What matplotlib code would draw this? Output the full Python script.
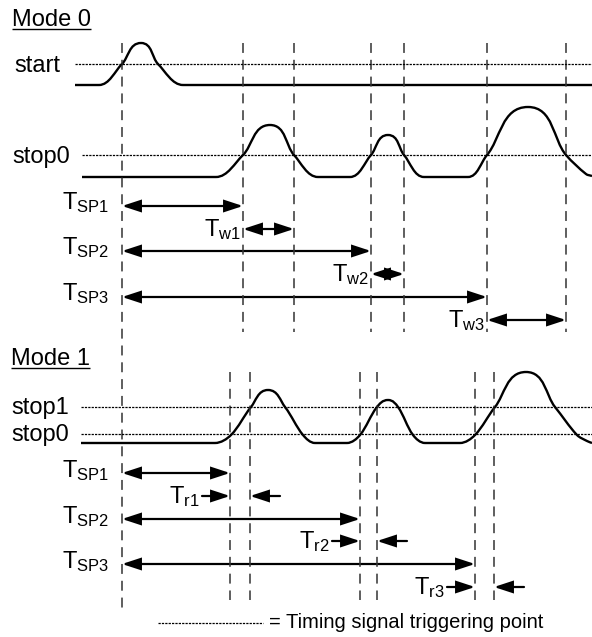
import numpy as np
import matplotlib
matplotlib.use("Agg")
import matplotlib.pyplot as plt
from matplotlib.path import Path
from matplotlib.patches import PathPatch, FancyArrowPatch

plt.rcParams['font.family'] = ['Liberation Sans', 'DejaVu Sans']
plt.rcParams['mathtext.fontset'] = 'custom'
plt.rcParams['mathtext.rm'] = 'Liberation Sans'
plt.rcParams['mathtext.it'] = 'Liberation Sans'

# --- data (time axis ~ pixel units, signal levels ~ pixel rows) ---
T_START = 122
TRIG_M0 = [243, 294, 371, 404, 487, 566]          # stop0 crossings, mode 0
TRIG_M1 = [230, 250, 360, 377, 475, 494]          # stop0 / stop1 crossings, mode 1

LEVEL_START = 64
LEVEL_STOP0_M0 = 155
LEVEL_STOP1_M1 = 407
LEVEL_STOP0_M1 = 434

# signal knots (time, level)
SIG_START = [(75, 85), (99, 85), (122, 64), (141, 43), (158, 64),
             (183, 85), (592, 85)]
SIG_STOP0_M0 = [(82, 177), (216, 177), (243, 155), (270, 125),
                (294, 155), (318, 177), (350, 177), (371, 155), (388, 135),
                (404, 155), (424, 177), (468, 177), (487, 155),
                (528, 107), (566, 155), (586, 174), (592, 176)]
SIG_M1 = [(81, 443), (215, 443), (231, 435), (251, 407), (268, 390),
          (285, 407), (303, 435), (315, 443), (347, 443), (360, 435), (377, 407),
          (388, 400), (398, 407), (413, 435), (425, 443), (460, 443),
          (475, 435), (495, 407), (526, 372), (555, 407), (577, 435),
          (587, 441), (592, 443)]

SP_LABELS = ['SP1', 'SP2', 'SP3']
W_LABELS = ['w1', 'w2', 'w3']
R_LABELS = ['r1', 'r2', 'r3']

FS = 17


def smooth_path(pts):
    pts = np.array(pts, float)
    n = len(pts)
    dirs = np.zeros_like(pts)
    peak = np.zeros(n, bool)
    for i in range(n):
        if i == 0:
            d = pts[1] - pts[0]
        elif i == n - 1:
            d = pts[-1] - pts[-2]
        else:
            d = pts[i + 1] - pts[i - 1]
            if (pts[i, 1] - pts[i - 1, 1]) * (pts[i + 1, 1] - pts[i, 1]) <= 0:
                d = np.array([1.0, 0.0])
                peak[i] = pts[i, 1] < pts[i - 1, 1]
        dirs[i] = d / np.hypot(*d)
    verts = [pts[0]]
    codes = [Path.MOVETO]
    for i in range(n - 1):
        L = np.hypot(*(pts[i + 1] - pts[i]))
        la = L * (0.42 if peak[i] else 0.33)
        lb = L * (0.42 if peak[i + 1] else 0.33)
        verts += [pts[i] + dirs[i] * la, pts[i + 1] - dirs[i + 1] * lb, pts[i + 1]]
        codes += [Path.CURVE4] * 3
    return Path(verts, codes)


def arrow(ax, x0, x1, y, style):
    a = FancyArrowPatch((x0, y), (x1, y), arrowstyle=style + ',head_length=1.1,head_width=0.36',
                        mutation_scale=10, lw=1.6, color='black',
                        shrinkA=0, shrinkB=0, joinstyle='miter')
    ax.add_patch(a)


fig = plt.figure(figsize=(5.92, 6.37), dpi=100)
ax = fig.add_axes([0, 0, 1, 1])
ax.set_xlim(0, 592)
ax.set_ylim(637, 0)
ax.axis('off')

dash = dict(color='#333333', lw=1.1, linestyle=(0, (6.5, 4.5)))
dot = dict(color='black', lw=0.9, linestyle=(0, (1.8, 0.9)))

# vertical trigger lines
ax.vlines(T_START, 43, 608, **dash)
ax.vlines(TRIG_M0, 43, 332, **dash)
ax.vlines(TRIG_M1, 372, 600, **dash)

# thresholds
ax.hlines(LEVEL_START, 75, 592, **dot)
ax.hlines(LEVEL_STOP0_M0, 82, 592, **dot)
ax.hlines(LEVEL_STOP1_M1, 81, 592, **dot)
ax.hlines(LEVEL_STOP0_M1, 81, 592, **dot)

# signals
for sig in (SIG_START, SIG_STOP0_M0, SIG_M1):
    ax.add_patch(PathPatch(smooth_path(sig), fill=False, lw=1.7, color='black',
                           capstyle='butt'))

# signal names
ax.text(14, LEVEL_START + 8, 'start', fontsize=FS, va='baseline')
ax.text(12, LEVEL_STOP0_M0 + 8, 'stop0', fontsize=FS, va='baseline')
ax.text(11, LEVEL_STOP1_M1 + 7, 'stop1', fontsize=FS, va='baseline')
ax.text(11, LEVEL_STOP0_M1 + 7, 'stop0', fontsize=FS, va='baseline')

# mode headers
modes = [ax.text(12, 26, 'Mode 0', fontsize=FS, va='baseline'),
         ax.text(11, 365, 'Mode 1', fontsize=FS, va='baseline')]

# mode 0 timing arrows
sp_y0 = [206, 251, 297]
w_y0 = [229, 274, 320]
w_end = [TRIG_M0[1], TRIG_M0[3], TRIG_M0[5]]
for k in range(3):
    xs = TRIG_M0[2 * k]
    arrow(ax, T_START, xs, sp_y0[k], '<|-|>')
    ax.text(109, sp_y0[k] + 3, r'$\mathrm{T_{%s}}$' % SP_LABELS[k], fontsize=FS,
            ha='right', va='baseline')
    arrow(ax, xs, w_end[k], w_y0[k], '<|-|>')
    ax.text(xs - 2, w_y0[k] + 7, r'$\mathrm{T_{%s}}$' % W_LABELS[k], fontsize=FS,
            ha='right', va='baseline')

# mode 1 timing arrows
sp_y1 = [473, 519, 564]
r_y1 = [496, 541, 587]
for k in range(3):
    x_a = TRIG_M1[2 * k]
    x_b = TRIG_M1[2 * k + 1]
    arrow(ax, T_START, x_a, sp_y1[k], '<|-|>')
    ax.text(109, sp_y1[k] + 4, r'$\mathrm{T_{%s}}$' % SP_LABELS[k], fontsize=FS,
            ha='right', va='baseline')
    arrow(ax, x_a - 28, x_a, r_y1[k], '-|>')
    arrow(ax, x_b + 30, x_b, r_y1[k], '-|>')
    ax.text(x_a - 30, r_y1[k] + 7, r'$\mathrm{T_{%s}}$' % R_LABELS[k], fontsize=FS,
            ha='right', va='baseline')

# legend
ax.hlines(623, 158, 263, **dot)
ax.text(269, 628, '= Timing signal triggering point', fontsize=14.5, va='baseline')

# underline mode headers
fig.canvas.draw()
inv = ax.transData.inverted()
for t in modes:
    bb = t.get_window_extent()
    (x0, _), (x1, _) = inv.transform([[bb.x0, bb.y0], [bb.x1, bb.y0]])
    y = t.get_position()[1] + 3
    ax.plot([x0, x1], [y, y], color='black', lw=1.0, solid_capstyle='butt')

fig.savefig('out.png', dpi=100)
